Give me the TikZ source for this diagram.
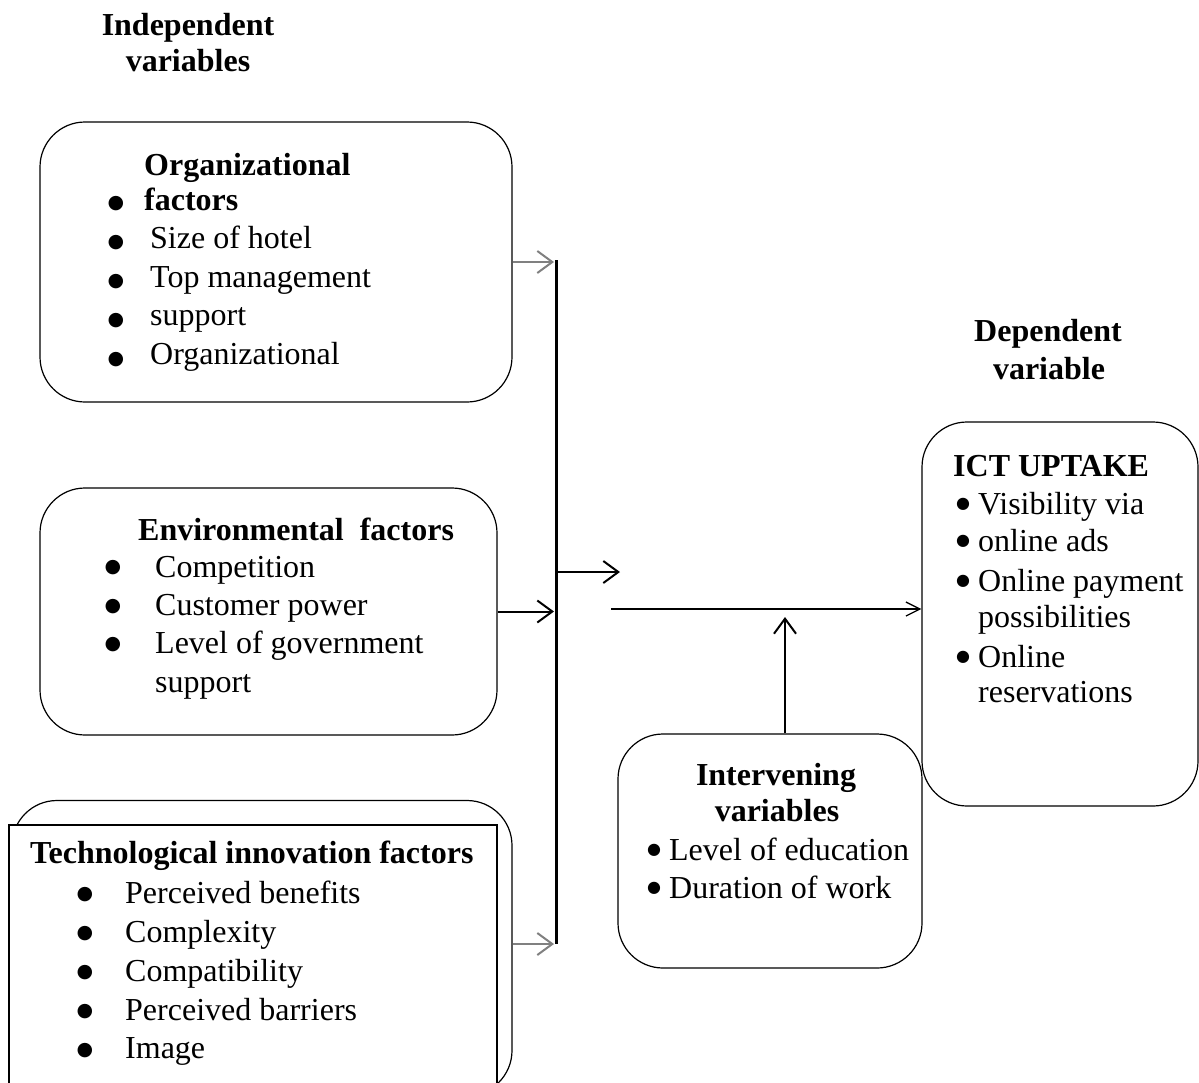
\documentclass[tikz,border=0pt]{standalone}
\usepackage{fontspec}
\setmainfont{Liberation Serif}
\newfontfamily\symfont{DejaVu Sans}
\usetikzlibrary{arrows.meta}
\newcommand{\bigbul}{\raisebox{5.5pt}{\symfont\fontsize{16}{16}\selectfont ●}}

\begin{document}
\fontsize{32}{39}\selectfont
\begin{tikzpicture}[x=1pt,y=-1pt,
  box/.style={draw,line width=1.2pt,rounded corners=45pt,inner sep=0pt},
  head/.style={font=\bfseries,anchor=base,inner sep=0pt},
  item/.style={anchor=base west,inner sep=0pt},
  dot/.style={anchor=center,inner sep=0pt,font=\symfont\fontsize{19}{19}\selectfont},
  link/.style={line width=2pt,-{Straight Barb[length=15pt,width=22pt,line width=2pt]}},
  greylink/.style={link,black!50},
  thinlink/.style={line width=1.3pt,-{Straight Barb[length=14pt,width=14pt,line width=1.3pt]}},
  bar/.style={line width=3pt}]
\clip (0,0) rectangle (1199,1082);

% column titles
\node[head] (indep1) at (188,35) {Independent};
\node[head] (indep2) at (188,71) {variables};
\node[head] (dep1) at (1048,341) {Dependent};
\node[head] (dep2) at (1049,379) {variable};

% organizational factors
\node[box,minimum width=472pt,minimum height=280pt] (org) at (276,262) {};
\node[item,font=\bfseries] (orgtitle) at (144,175) {Organizational};
\node[item,font=\bfseries] (orgfactors) at (144,210) {factors};
\node[item] (orgsize) at (150,248) {Size of hotel};
\node[item] (orgtop) at (150,287) {Top management};
\node[item] (orgsupport) at (150,325) {support};
\node[item] (orgorg) at (150,364) {Organizational};
\node[dot] (ob1) at (116,204) {●};
\node[dot] (ob2) at (116,243) {●};
\node[dot] (ob3) at (116,282) {●};
\node[dot] (ob4) at (116,321) {●};
\node[dot] (ob5) at (116,360) {●};

% environmental factors
\node[box,minimum width=457pt,minimum height=247pt] (env) at (268.5,611.5) {};
\node[item,font=\bfseries] (envtitle) at (138,540) {Environmental~ factors};
\node[item] (envcomp) at (155,577) {Competition};
\node[item] (envcust) at (155,615) {Customer power};
\node[item] (envgov) at (155,653) {Level of government};
\node[item] (envsupport) at (155,692) {support};
\node[dot] (eb1) at (113,568) {●};
\node[dot] (eb2) at (113,607) {●};
\node[dot] (eb3) at (113,645) {●};

% technological innovation factors
\node[box,minimum width=500pt,minimum height=295pt] (techback) at (262,948) {};
\node[draw,fill=white,line width=1.2pt,inner sep=0pt,minimum width=488pt,minimum height=290pt] (tech) at (253,970) {};
\node[item,font=\bfseries] (techtitle) at (30,863) {Technological innovation factors};
\node[item] (techben) at (125,903) {Perceived benefits};
\node[item] (techcomplex) at (125,942) {Complexity};
\node[item] (techcompat) at (125,981) {Compatibility};
\node[item] (techbarr) at (125,1020) {Perceived barriers};
\node[item] (techimage) at (125,1058) {Image};
\node[dot] (tb1) at (85,895) {●};
\node[dot] (tb2) at (85,934) {●};
\node[dot] (tb3) at (85,973) {●};
\node[dot] (tb4) at (85,1012) {●};
\node[dot] (tb5) at (85,1051) {●};

% intervening variables
\node[box,minimum width=304pt,minimum height=234pt] (inter) at (770,851) {};
\node[head] (intertitle1) at (776,785) {Intervening};
\node[head] (intertitle2) at (777,821) {variables};
\node[item] (interedu) at (647,860) {\bigbul{} Level of education};
\node[item] (interwork) at (647,898) {\bigbul{} Duration of work};

% ICT uptake
\node[box,minimum width=276pt,minimum height=384pt] (ict) at (1060,614) {};
\node[item,font=\bfseries] (icttitle) at (953,476) {ICT UPTAKE};
\node[item] (ictvis) at (956,514) {\bigbul{} Visibility via};
\node[item] (ictads) at (956,551) {\bigbul{} online ads};
\node[item] (ictpay) at (956,591) {\bigbul{} Online payment};
\node[item] (ictposs) at (978,627) {possibilities};
\node[item] (ictonline) at (956,667) {\bigbul{} Online};
\node[item] (ictres) at (978,702) {reservations};

% connectors
\coordinate (bartop) at (556,260);
\coordinate (barbot) at (556,944);
\coordinate (split) at (556,572);
\coordinate (splitend) at (620,572);
\coordinate (flow) at (611,609);
\coordinate (meet) at (785,617);
\draw[bar] (bartop) -- (barbot);
\draw[greylink,shorten >=2pt] (org.east) -- (org.east -| bartop);
\draw[link,shorten >=2pt] (env.east) -- (env.east -| bartop);
\draw[greylink,shorten >=2pt] (techback.east |- barbot) -- (barbot);
\draw[link] (split) -- (splitend);
\draw[thinlink] (flow) -- (flow -| ict.west);
\draw[link] (meet |- inter.north) -- (meet);
\end{tikzpicture}
\end{document}
